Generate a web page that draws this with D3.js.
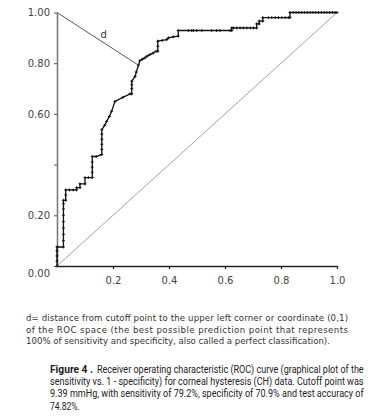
<!DOCTYPE html>
<html>
<head>
<meta charset="utf-8">
<script src="https://cdn.jsdelivr.net/npm/d3@7"></script>
<style>
  body { margin: 0; background: #fff; }
  svg { display: block; }
</style>
</head>
<body>
<div id="chart"></div>
<script>
// ROC curve points, [1 - specificity, sensitivity]
const rocPoints = [
  [0, 0], [0, 0.02], [0, 0.04], [0, 0.06], [0, 0.075],
  [0.023, 0.075], [0.023, 0.10], [0.023, 0.125], [0.023, 0.15], [0.023, 0.175],
  [0.023, 0.20], [0.023, 0.225], [0.023, 0.245], [0.023, 0.259],
  [0.031, 0.259], [0.031, 0.28], [0.031, 0.300],
  [0.045, 0.300], [0.058, 0.300], [0.070, 0.300], [0.070, 0.309],
  [0.082, 0.309], [0.082, 0.324], [0.100, 0.324], [0.100, 0.349],
  [0.112, 0.349], [0.126, 0.349], [0.126, 0.37], [0.126, 0.39], [0.126, 0.41], [0.126, 0.432],
  [0.140, 0.432], [0.160, 0.440], [0.160, 0.46], [0.160, 0.48], [0.160, 0.50], [0.160, 0.52], [0.160, 0.538],
  [0.170, 0.555], [0.177, 0.570], [0.187, 0.590], [0.195, 0.610], [0.207, 0.649],
  [0.235, 0.665], [0.261, 0.679], [0.267, 0.679], [0.267, 0.70], [0.267, 0.715], [0.267, 0.729],
  [0.279, 0.748], [0.283, 0.765], [0.291, 0.792],
  [0.296, 0.810], [0.305, 0.816], [0.314, 0.821], [0.322, 0.828], [0.332, 0.834], [0.343, 0.840],
  [0.354, 0.847], [0.360, 0.847], [0.360, 0.867], [0.360, 0.887], [0.376, 0.890], [0.392, 0.893],
  [0.398, 0.900], [0.415, 0.904], [0.433, 0.907], [0.433, 0.929],
  [0.469, 0.929], [0.481, 0.929], [0.487, 0.929], [0.499, 0.929], [0.517, 0.929], [0.552, 0.929],
  [0.570, 0.929], [0.582, 0.929], [0.618, 0.929], [0.624, 0.929], [0.624, 0.939],
  [0.630, 0.939], [0.642, 0.939], [0.654, 0.939], [0.666, 0.939], [0.678, 0.939], [0.690, 0.939],
  [0.702, 0.939], [0.713, 0.939], [0.713, 0.955], [0.722, 0.955], [0.722, 0.966],
  [0.735, 0.966], [0.735, 0.980], [0.755, 0.980], [0.767, 0.980], [0.779, 0.980], [0.791, 0.980],
  [0.803, 0.980], [0.815, 0.980], [0.826, 0.980], [0.832, 0.980], [0.832, 1],
  [0.844, 1], [0.854, 1], [0.864, 1], [0.874, 1], [0.884, 1], [0.894, 1], [0.904, 1], [0.914, 1],
  [0.924, 1], [0.934, 1], [0.944, 1], [0.954, 1], [0.964, 1], [0.974, 1], [0.984, 1], [0.993, 1], [1, 1]
];
const referenceLine = [[0, 0], [1, 1]];
const cutoffPoint = [0.291, 0.792];
const perfectPoint = [0, 1];

const xTicks = [0.2, 0.4, 0.6, 0.8, 1.0];
const xTickLabels = ["0.2", "0.4", "0.6", "0.8", "1.0"];
const yTicks = [0, 0.2, 0.4, 0.6, 0.8, 1.0];
const yTickLabels = ["0.00", "0.20", "", "0.60", "0.80", "1.00"];

const noteLines = [
  "d= distance from cutoff point to the upper left corner or coordinate (0,1)",
  "of the ROC space (the best possible prediction point that represents",
  "100% of sensitivity and specificity, also called a perfect classification)."
];
const captionLabel = "Figure 4 .";
const captionLines = [
  "Receiver operating characteristic (ROC) curve (graphical plot of the",
  "sensitivity vs. 1 - specificity) for corneal hysteresis (CH) data. Cutoff point was",
  "9.39 mmHg, with sensitivity of 79.2%, specificity of 70.9% and test accuracy of",
  "74.82%."
];

const width = 370, height = 418;
const svg = d3.select("#chart").append("svg")
    .attr("width", width)
    .attr("height", height);

const x = d3.scaleLinear().domain([0, 1]).range([57, 337]);
const y = d3.scaleLinear().domain([0, 1]).range([266, 12.5]);

const line = d3.line().x(d => x(d[0])).y(d => y(d[1]));

// diagonal reference
svg.append("path")
    .datum(referenceLine)
    .attr("d", line)
    .attr("fill", "none")
    .attr("stroke", "#8a8a8a")
    .attr("stroke-width", 0.8);

// distance d
svg.append("path")
    .datum([perfectPoint, cutoffPoint])
    .attr("d", line)
    .attr("fill", "none")
    .attr("stroke", "#444")
    .attr("stroke-width", 0.9);

svg.append("text")
    .attr("x", x(0.155))
    .attr("y", y(0.9) + 0.5)
    .attr("font-family", "DejaVu Sans, sans-serif")
    .attr("font-size", 10)
    .attr("fill", "#333")
    .text("d");

// x axis
const xAxis = svg.append("g")
    .attr("transform", `translate(0,${y(0)})`)
    .call(d3.axisBottom(x).tickValues(xTicks).tickFormat((d, i) => xTickLabels[i])
      .tickSize(3).tickSizeOuter(0).tickPadding(8));
xAxis.select(".domain").attr("stroke", "#222").attr("stroke-width", 1.4);
xAxis.selectAll(".tick line").attr("stroke", "#222").attr("stroke-width", 1.2);
xAxis.selectAll("text")
    .attr("font-family", "DejaVu Sans, sans-serif")
    .attr("font-size", 10)
    .attr("fill", "#444");

// y axis
const yAxis = svg.append("g")
    .attr("transform", `translate(${x(0)},0)`)
    .call(d3.axisLeft(y).tickValues(yTicks).tickFormat((d, i) => yTickLabels[i])
      .tickSize(3).tickSizeOuter(0).tickPadding(4));
yAxis.select(".domain").attr("stroke", "#7a7a7a").attr("stroke-width", 1.6);
yAxis.selectAll(".tick line").attr("stroke", "#555").attr("stroke-width", 1);
yAxis.selectAll("text")
    .attr("font-family", "DejaVu Sans, sans-serif")
    .attr("font-size", 10)
    .attr("fill", "#444")
    .attr("dy", (d) => d === 0 ? "1.0em" : "0.32em");

// ROC curve
svg.append("path")
    .datum(rocPoints)
    .attr("d", line)
    .attr("fill", "none")
    .attr("stroke", "#111")
    .attr("stroke-width", 1.3);

svg.append("g")
  .selectAll("path")
  .data(rocPoints)
  .join("path")
    .attr("transform", d => `translate(${x(d[0])},${y(d[1])})`)
    .attr("d", "M-1.5,0H1.5M0,-1.5V1.5")
    .attr("stroke", "#111")
    .attr("stroke-width", 0.9);

// note under the chart
svg.append("g")
  .selectAll("text")
  .data(noteLines)
  .join("text")
    .attr("x", 26)
    .attr("y", (d, i) => 321 + i * 11.5)
    .attr("font-family", "DejaVu Sans, sans-serif")
    .attr("font-size", 8.6)
    .attr("fill", "#333")
    .attr("textLength", (d, i) => i < 2 ? 322 : null)
    .attr("lengthAdjust", "spacing")
    .text(d => d);

// figure caption, squeezed horizontally like the condensed print face
const cap = svg.append("g");
const capLabel = cap.append("text")
    .attr("font-family", "Roboto, sans-serif")
    .attr("font-size", 10)
    .attr("font-weight", "bold")
    .attr("fill", "#222")
    .text(captionLabel);
capLabel.attr("transform", function() {
  return `translate(50,373) scale(${43 / this.getComputedTextLength()},1)`;
});

cap.selectAll("text.line")
  .data(captionLines)
  .join("text")
    .attr("class", "line")
    .attr("font-family", "Roboto, sans-serif")
    .attr("font-size", 10)
    .attr("fill", "#222")
    .text(d => d)
    .attr("transform", function(d, i) {
      const left = i === 0 ? 97 : 50;
      const base = i < 3 ? 373 + i * 12 : 409.5;
      const k = i < 3 ? (364 - left) / this.getComputedTextLength() : 0.85;
      return `translate(${left},${base}) scale(${k},1)`;
    });
</script>
</body>
</html>
